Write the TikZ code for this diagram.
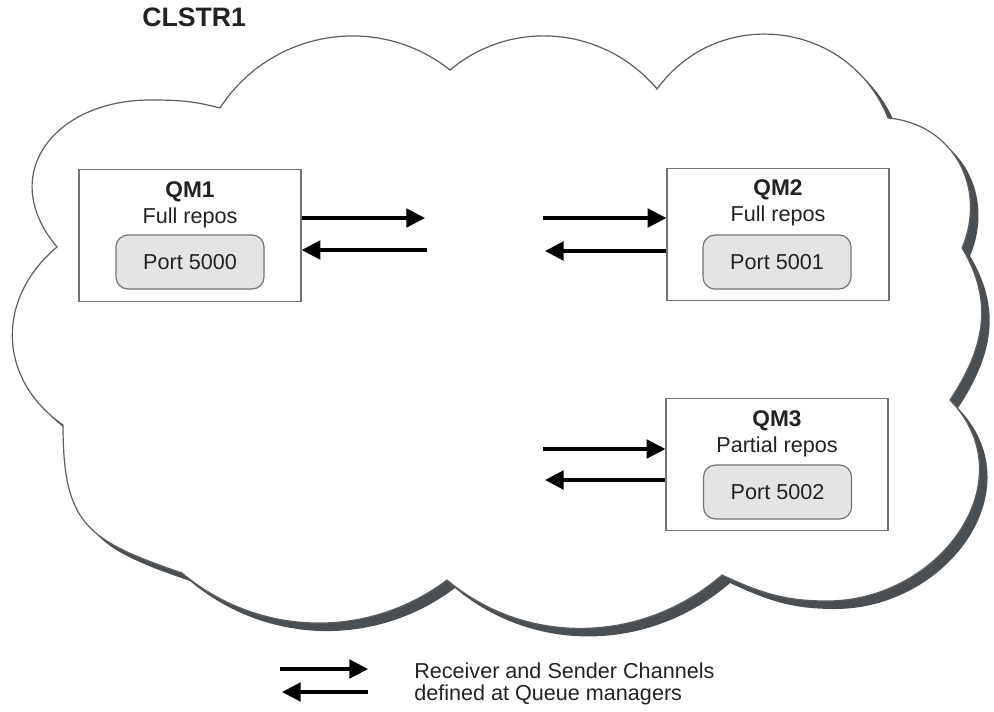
\documentclass[tikz,border=0pt]{standalone}
\usepackage{fontspec}
\setmainfont{Liberation Sans}
\usepackage{xcolor}
\usepackage{tikz}
\usetikzlibrary{arrows.meta,positioning}

\definecolor{cloudshadow}{HTML}{4A4F54}
\definecolor{cloudline}{HTML}{5E5E5E}
\definecolor{boxline}{HTML}{737373}
\definecolor{portfill}{HTML}{E4E4E6}
\definecolor{textdark}{HTML}{222222}

\newcommand{\cloudshape}{%
  (57,247) to[out=130,in=180,looseness=1.4] (150,100)
  to[out=0,in=165] (220,108)
  to[out=57,in=141.5,looseness=1.02] (450,70)
  to[out=40,in=130] (657,89)
  to[out=54,in=111.5,looseness=1.15] (888,118)
  to[out=-5,in=67,looseness=1.12] (962,248)
  to[out=-59,in=56.5,looseness=1.05] (950,400)
  to[out=-46,in=0,looseness=1.22] (827,601)
  to[out=180,in=-25] (722,575)
  to[out=-139,in=-40,looseness=0.97] (447,580)
  to[out=-143,in=-40,looseness=0.96] (182,573)
  to[out=161,in=-90,looseness=1.35] (63,425)
  to[out=145,in=220,looseness=1.15] (57,247) -- cycle}

\begin{document}
\begin{tikzpicture}[x=0.75pt,y=-0.75pt,
        qmbox/.style={draw=boxline,line width=1pt,fill=white,minimum width=166.5pt,minimum height=99pt,inner sep=0pt},
        qmlabel/.style={align=center,inner sep=0pt,text=textdark,font=\fontsize{16.2}{19.5}\selectfont},
        portbox/.style={draw=boxline,line width=0.9pt,fill=portfill,rounded corners=9pt,minimum width=111pt,minimum height=40.5pt,inner sep=0pt,text=textdark,font=\fontsize{16.2}{19.5}\selectfont},
        chan/.style={-{Triangle[length=14pt,width=14pt]},line width=2.4pt}]
        \useasboundingbox (0,0) rectangle (994,711);

        % cloud with its shadow
        \fill[cloudshadow,shift={(8,8)}] \cloudshape;
        \filldraw[fill=white,draw=cloudline,line width=0.9pt] \cloudshape;

        \node[anchor=base west,inner sep=0pt,text=textdark,font=\fontsize{20}{24}\selectfont\bfseries] (title) at (142,26) {CLSTR1};

        % queue managers
        \node[qmbox] (qm1) at (190,235.5) {};
        \node[qmbox] (qm2) at (778,234.5) {};
        \node[qmbox] (qm3) at (777,464.5) {};
        \node[qmlabel,below=9.5pt of qm1.north] (qm1text) {{\fontsize{17}{19.5}\selectfont\bfseries QM1}\\Full repos};
        \node[qmlabel,below=9pt of qm2.north] (qm2text) {{\fontsize{17}{19.5}\selectfont\bfseries QM2}\\Full repos};
        \node[qmlabel,below=9.5pt of qm3.north] (qm3text) {{\fontsize{17}{19.5}\selectfont\bfseries QM3}\\Partial repos};
        \node[portbox] (port1) at (190,262) {Port 5000};
        \node[portbox] (port2) at (777,262) {Port 5001};
        \node[portbox] (port3) at (777.5,492) {Port 5002};

        % channels
        \coordinate (q1out) at (425,218);
        \coordinate (q1in) at (427,250);
        \coordinate (q2in) at (543,218);
        \coordinate (q2out) at (545,251);
        \coordinate (q3in) at (543,449);
        \coordinate (q3out) at (545,480);
        \draw[chan] (qm1.east |- q1out) -- (q1out);
        \draw[chan] (q1in) -- (qm1.east |- q1in);
        \draw[chan] (q2in) -- (qm2.west |- q2in);
        \draw[chan] (qm2.west |- q2out) -- (q2out);
        \draw[chan] (q3in) -- (qm3.west |- q3in);
        \draw[chan] (qm3.west |- q3out) -- (q3out);

        % legend
        \coordinate (lg1a) at (280,669);
        \coordinate (lg1b) at (368,669);
        \coordinate (lg2a) at (368,692);
        \coordinate (lg2b) at (282,692);
        \draw[chan] (lg1a) -- (lg1b);
        \draw[chan] (lg2a) -- (lg2b);
        \node[anchor=north west,align=left,inner sep=0pt,text=textdark,font=\fontsize{16.2}{16.5}\selectfont] (legend) at (414,662.5) {Receiver and Sender Channels\\defined at Queue managers};
\end{tikzpicture}
\end{document}
